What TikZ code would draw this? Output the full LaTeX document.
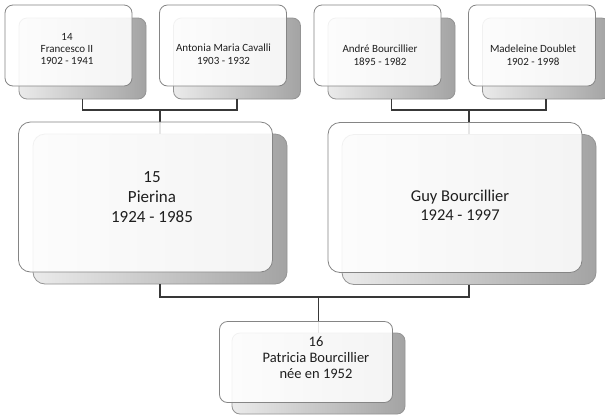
\documentclass[tikz,border=0pt]{standalone}
\usepackage{fontspec}
\setmainfont{Carlito}
\begin{document}
\begin{tikzpicture}[x=1pt,y=-1pt,
  backcard/.style={draw=black!42, line width=0.8pt, rounded corners=#1, inner sep=0pt,
    left color=black!8, right color=black!36},
  frontcard/.style={draw=black!48, line width=0.8pt, rounded corners=#1, inner sep=0pt,
    fill=white, fill opacity=0.88},
  small/.style={minimum width=127pt, minimum height=81pt},
  large/.style={minimum width=254pt, minimum height=150pt},
  child/.style={minimum width=173pt, minimum height=81pt},
  link/.style={draw=black!78, line width=1.8pt},
  label/.style={align=center, text=black!88, inner sep=0pt},
  smalltext/.style={label, font=\fontsize{11}{13}\selectfont},
  bigtext/.style={label, font=\fontsize{17}{20}\selectfont},
  childtext/.style={label, font=\fontsize{14.5}{16}\selectfont}]
\useasboundingbox (0,0) rectangle (605,416);
\fill[white] (0,0) rectangle (605,416);

% rear cards
\node[backcard=8pt, small] (b14)  at (82.5,58.5) {};
\node[backcard=8pt, small] (bant) at (237,58.5) {};
\node[backcard=8pt, small] (band) at (391.5,58.5) {};
\node[backcard=8pt, small] (bmad) at (546,58.5) {};
\node[backcard=12pt, large] (bpie) at (160,209) {};
\node[backcard=12pt, large] (bguy) at (469,209.5) {};
\node[backcard=8pt, child] (bpat) at (318.5,373.5) {};

% family connectors
\coordinate (jl) at (160,110);
\coordinate (jr) at (469,110);
\coordinate (jb) at (160,297);
\draw[link] (b14.south) |- (jl) -| (bant.south);
\draw[link] (jl) -- (bpie.north);
\draw[link] (band.south) |- (jr) -| (bmad.south);
\draw[link] (jr) -- (bguy.north);
\draw[link] (bpie.south) |- (jb) -| (bguy.south);
\draw[link] (bpat.north) -- (bpat.north |- jb);

% front cards
\node[frontcard=8pt, small] (f14)  at (68.5,45.5) {};
\node[frontcard=8pt, small] (fant) at (223,45.5) {};
\node[frontcard=8pt, small] (fand) at (377.5,45.5) {};
\node[frontcard=8pt, small] (fmad) at (532,45.5) {};
\node[frontcard=12pt, large] (fpie) at (145.5,197) {};
\node[frontcard=12pt, large] (fguy) at (455,197.5) {};
\node[frontcard=8pt, child] (fpat) at (306,362) {};

% names and dates
\node[smalltext, font=\fontsize{11}{12}\selectfont] (t14) at (67,48.5) {14\\Francesco II\\1902 - 1941};
\node[smalltext] (tant) at (223.5,54) {Antonia Maria Cavalli\\1903 - 1932};
\node[smalltext] (tand) at (380,55) {André Bourcillier\\1895 - 1982};
\node[smalltext] (tmad) at (533,55) {Madeleine Doublet\\1902 - 1998};
\node[bigtext] (tpie) at (152,197.5) {15\\Pierina\\1924 - 1985};
\node[bigtext, font=\fontsize{16.5}{19}\selectfont] (tguy) at (460,205.5) {Guy Bourcillier\\1924 - 1997};
\node[childtext] (tpat) at (316,357.5) {16\\Patricia Bourcillier\\née en 1952};
\end{tikzpicture}
\end{document}
